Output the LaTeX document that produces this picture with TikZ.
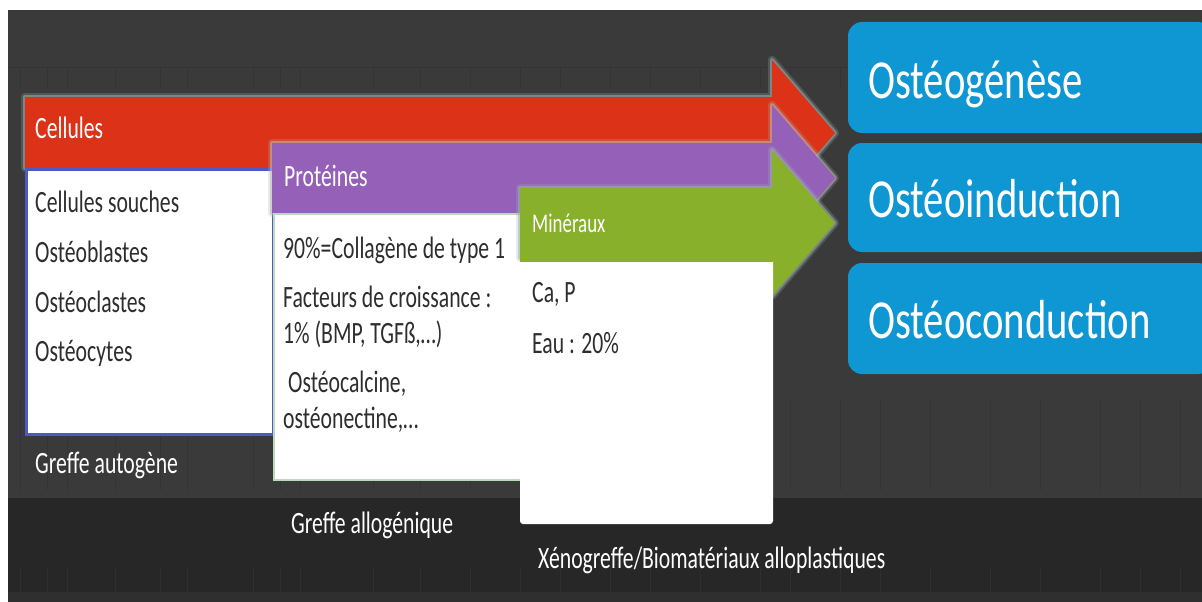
\documentclass[tikz,border=0pt]{standalone}
\usepackage{fontspec}
\setmainfont[FakeStretch=0.7]{Carlito}
\newfontfamily\boxfont[FakeStretch=0.74]{Carlito}
\definecolor{bgtop}{HTML}{3A3A3A}
\definecolor{bgbot}{HTML}{272727}
\definecolor{gridc}{HTML}{343434}
\definecolor{redc}{HTML}{DC3318}
\definecolor{purc}{HTML}{9560B8}
\definecolor{grnc}{HTML}{88B02A}
\definecolor{bluec}{HTML}{0F97D3}
\definecolor{panblue}{HTML}{4B5BC2}
\definecolor{pangreen}{HTML}{BCD9BC}
\definecolor{glowc}{HTML}{9BB0B0}
\definecolor{txtc}{HTML}{2E2E2E}
\begin{document}
\begin{tikzpicture}[x=1pt,y=-1pt,
  glowa/.style={draw=glowc, line width=8pt, draw opacity=0.25, line join=round},
  glowb/.style={draw=glowc, line width=4pt, draw opacity=0.55, line join=round},
  bodytxt/.style={anchor=base west, inner sep=0pt, text=txtc, font=\fontsize{31}{36}\selectfont},
  whitetxt/.style={bodytxt, text=white},
  bigtxt/.style={anchor=base west, inner sep=0pt, text=white, font=\boxfont\fontsize{55}{60}\selectfont},
  panel/.style={fill=white},
  bluebox/.style={fill=bluec, rounded corners=14pt}]
\useasboundingbox (0,0) rectangle (1202,602);
% background
\fill[white] (0,0) rectangle (1202,602);
\fill[bgtop] (8,10) rectangle (1202,498);
\fill[bgbot] (8,498) rectangle (1202,602);
\fill[gridc!60!bgbot] (8,592) rectangle (1202,602);
\foreach \gx in {20,47,67,115,160,187,253,280,300,373,420,470,520,560,610,650,700,760,790,840,880,930,990,1040,1100,1140,1180} {
  \draw[gridc, line width=0.6pt] (\gx,67) -- (\gx,88);
  \draw[gridc, line width=0.6pt] (\gx,400) -- (\gx,490);
  \draw[gridc!60!bgbot, line width=0.6pt] (\gx,567) -- (\gx,592);
}
\draw[gridc, line width=0.6pt] (8,67) -- (1202,67);
% red arrow
\path[glowa] (25,97) -- (772,97) -- (772,60) -- (835,133) -- (772,206) -- (772,168) -- (25,168) -- cycle;
\path[glowb] (25,97) -- (772,97) -- (772,60) -- (835,133) -- (772,206) -- (772,168) -- (25,168) -- cycle;
\fill[redc] (25,97) -- (772,97) -- (772,60) -- (835,133) -- (772,206) -- (772,168) -- (25,168) -- cycle;
\draw[panel, draw=panblue, line width=3pt] (26,169) rectangle (273,434);
% purple arrow
\path[glowa] (272,143) -- (772,143) -- (772,105) -- (835,178) -- (772,251) -- (772,213) -- (272,213) -- cycle;
\path[glowb, draw=glowc!60!pink] (272,143) -- (772,143) -- (772,105) -- (835,178) -- (772,251) -- (772,213) -- (272,213) -- cycle;
\fill[purc] (272,143) -- (772,143) -- (772,105) -- (835,178) -- (772,251) -- (772,213) -- (272,213) -- cycle;
\draw[panel, draw=pangreen, line width=2pt] (274,214) rectangle (521,480);
% green arrow
\path[glowa] (520,188) -- (772,188) -- (772,150) -- (835,223) -- (772,296) -- (772,258) -- (520,258) -- cycle;
\path[glowb] (520,188) -- (772,188) -- (772,150) -- (835,223) -- (772,296) -- (772,258) -- (520,258) -- cycle;
\fill[grnc] (520,188) -- (772,188) -- (772,150) -- (835,223) -- (772,296) -- (772,258) -- (520,258) -- cycle;
\fill[panel, rounded corners=3pt] (520,258) rectangle (773,524);
\fill[grnc] (520,258) rectangle (773,262);
% blue boxes
\fill[bluebox] (848,22) rectangle (1212,133);
\fill[bluebox] (848,143) rectangle (1212,252);
\fill[bluebox] (848,263) rectangle (1212,374);
% texts
\node[whitetxt] (cel) at (35,138) {Cellules};
\node[bodytxt] (c1) at (35,212) {Cellules souches};
\node[bodytxt] (c2) at (35,262) {Ostéoblastes};
\node[bodytxt] (c3) at (35,312) {Ostéoclastes};
\node[bodytxt] (c4) at (35,361) {Ostéocytes};
\node[whitetxt] (ga) at (35,473) {Greffe autogène};
\node[whitetxt] (prot) at (284,186) {Protéines};
\node[bodytxt] (p1) at (283,258) {90\%=Collagène de type 1};
\node[bodytxt] (p2) at (283,307) {Facteurs de croissance :};
\node[bodytxt] (p3) at (283,343) {1\% (BMP, TGFß,…)};
\node[bodytxt] (p4) at (288,392) {Ostéocalcine,};
\node[bodytxt] (p5) at (283,428) {ostéonectine,…};
\node[whitetxt] (gal) at (291,533) {Greffe allogénique};
\node[whitetxt, font=\fontsize{27}{32}\selectfont] (min) at (532,232) {Minéraux};
\node[bodytxt] (m1) at (532,302) {Ca, P};
\node[bodytxt] (m2) at (532,353) {Eau : 20\%};
\node[whitetxt] (xen) at (538,568) {Xénogreffe/Biomatériaux alloplastiques};
\node[bigtxt] (b1) at (868,98) {Ostéogénèse};
\node[bigtxt] (b2) at (868,217) {Ostéoinduction};
\node[bigtxt] (b3) at (868,338) {Ostéoconduction};
\end{tikzpicture}
\end{document}
